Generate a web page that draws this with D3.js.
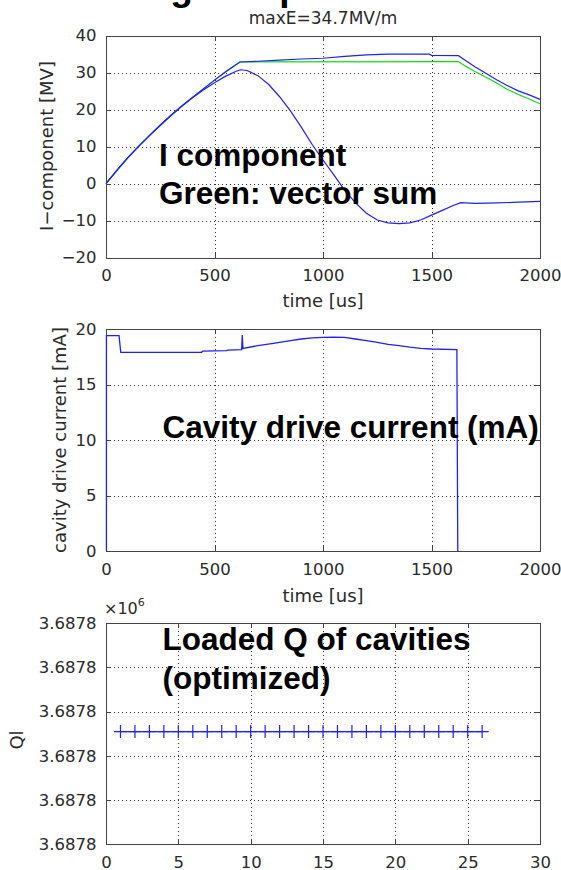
<!DOCTYPE html>
<html>
<head>
<meta charset="utf-8">
<script src="https://cdn.jsdelivr.net/npm/d3@7"></script>
<style>
  html, body { margin: 0; padding: 0; background: #fff; }
  svg { display: block; }
</style>
</head>
<body>
<svg id="fig" width="561" height="870"></svg>
<script>
// ---- Panel 1: I-component of cavity voltage [MV] vs time [us] ----
const timeTicks = [0, 500, 1000, 1500, 2000];
const iTicks = [-20, -10, 0, 10, 20, 30, 40];

// upper blue trace
const tUpper = [0, 50, 100, 150, 200, 250, 300, 350, 400, 450, 500, 550, 617, 700, 800, 900, 1000, 1100, 1200, 1300, 1400, 1490, 1500, 1624, 1650, 1700, 1754, 1800, 1846, 1900, 1950, 2000];
const vUpper = [0, 3.6, 7.0, 10.1, 13.0, 15.8, 18.5, 21.0, 23.4, 25.7, 28.0, 30.2, 32.9, 33.1, 33.4, 33.7, 33.9, 34.4, 34.8, 35.0, 35.0, 35.0, 34.7, 34.6, 33.6, 31.6, 29.7, 28.1, 26.6, 25.1, 24.0, 22.8];

// green trace: vector sum
const tVecSum = [0, 50, 100, 150, 200, 250, 300, 350, 400, 450, 500, 550, 617, 1624, 1650, 1700, 1754, 1800, 1846, 1900, 1950, 2000];
const vVecSum = [0, 3.6, 7.0, 10.1, 13.0, 15.8, 18.5, 21.0, 23.4, 25.7, 28.0, 30.2, 32.9, 33.0, 32.0, 30.3, 28.7, 27.2, 25.6, 24.1, 22.9, 21.6];

// lower blue trace
const tLower = [0, 50, 100, 150, 200, 250, 300, 350, 400, 450, 500, 550, 600, 620, 650, 700, 750, 800, 850, 900, 950, 1000, 1050, 1100, 1150, 1200, 1250, 1300, 1350, 1400, 1450, 1500, 1550, 1600, 1635, 1700, 1800, 1900, 2000];
const vLower = [0, 3.6, 7.0, 10.1, 13.0, 15.8, 18.5, 21.0, 23.3, 25.4, 27.3, 29.0, 30.4, 30.8, 30.6, 29.2, 26.8, 23.5, 19.7, 15.3, 10.6, 6.4, 2.4, -1.8, -5.2, -8.0, -9.8, -10.6, -10.8, -10.6, -9.8, -8.5, -7.2, -5.9, -5.1, -5.3, -5.2, -5.0, -4.8];

// ---- Panel 2: cavity drive current [mA] vs time [us] ----
const currentTicks = [0, 5, 10, 15, 20];
const tDrive = [2, 2, 60, 68, 440, 445, 555, 560, 625, 628, 631, 700, 771, 850, 900, 950, 1000, 1050, 1100, 1150, 1200, 1250, 1300, 1350, 1400, 1450, 1500, 1617, 1621];
const iDrive = [0, 19.4, 19.4, 17.9, 17.9, 18.0, 18.05, 18.1, 18.15, 19.45, 18.25, 18.5, 18.7, 18.95, 19.1, 19.2, 19.25, 19.27, 19.25, 19.1, 18.95, 18.8, 18.62, 18.5, 18.36, 18.26, 18.2, 18.15, 0];

// ---- Panel 3: loaded Q per cavity ----
const cavityTicks = [0, 5, 10, 15, 20, 25, 30];
const qlTicks = [3687799.0, 3687799.4, 3687799.8, 3687800.2, 3687800.6, 3687801.0];
const cavityNo = [1, 2, 3, 4, 5, 6, 7, 8, 9, 10, 11, 12, 13, 14, 15, 16, 17, 18, 19, 20, 21, 22, 23, 24, 25, 26];
const qlValues = [3687800.02, 3687800.02, 3687800.02, 3687800.02, 3687800.02, 3687800.02, 3687800.02, 3687800.02, 3687800.02, 3687800.02, 3687800.02, 3687800.02, 3687800.02, 3687800.02, 3687800.02, 3687800.02, 3687800.02, 3687800.02, 3687800.02, 3687800.02, 3687800.02, 3687800.02, 3687800.02, 3687800.02, 3687800.02, 3687800.02];

const BLUE = "#1f1fff";
const GREEN = "#10dd10";
const AXIS = "#444";
const TXT = "#2a2a2a";
const TICK_FONT = "'DejaVu Sans', sans-serif";
const BOLD_FONT = "'Liberation Sans', Arial, sans-serif";

const svg = d3.select("#fig");

// Draws grid and tick labels for one axes box.
function drawAxes(g, x, y, xt, yt, yFmt) {
  const [xl, xr] = x.range();
  const [yb, yt0] = y.range();
  const grid = g.append("g")
    .attr("stroke", "#333").attr("stroke-width", 1)
    .attr("stroke-dasharray", "1,3").attr("shape-rendering", "crispEdges");
  grid.selectAll("line.vx").data(xt.slice(1, -1)).join("line")
    .attr("x1", d => Math.round(x(d)) + 0.5).attr("x2", d => Math.round(x(d)) + 0.5)
    .attr("y1", yt0).attr("y2", yb);
  grid.selectAll("line.hy").data(yt.slice(1, -1)).join("line")
    .attr("class", "hy")
    .attr("x1", xl).attr("x2", xr)
    .attr("y1", d => Math.round(y(d)) + 0.5).attr("y2", d => Math.round(y(d)) + 0.5);

  const bottom = d3.axisBottom(x).tickValues(xt).tickSize(0).tickPadding(12).tickFormat(d3.format("d"));
  const left = d3.axisLeft(y).tickValues(yt).tickSize(0).tickPadding(9.5)
    .tickFormat(yFmt || (v => d3.format("d")(v).replace("-", "\u2212")));

  const gx = g.append("g").attr("transform", `translate(0,${yb})`).call(bottom);
  const gy = g.append("g").attr("transform", `translate(${xl},0)`).call(left);
  [gx, gy].forEach(a => {
    a.select(".domain").remove();
    a.selectAll("text").attr("font-family", TICK_FONT).attr("font-size", 16.5).attr("fill", TXT);
  });
}

// Frame with inward tick marks on all four sides.
function drawFrame(g, x, y, xt, yt) {
  const [xl, xr] = x.range();
  const [yb, yt0] = y.range();
  const f = g.append("g").attr("stroke", AXIS).attr("stroke-width", 1).attr("shape-rendering", "crispEdges");
  f.append("rect").attr("x", xl + 0.5).attr("y", yt0 + 0.5)
    .attr("width", xr - xl).attr("height", yb - yt0).attr("fill", "none");
  const tl = 5;
  f.selectAll("line.tb").data(xt).join("line").attr("class", "tb")
    .attr("x1", d => Math.round(x(d)) + 0.5).attr("x2", d => Math.round(x(d)) + 0.5)
    .attr("y1", yb).attr("y2", yb - tl);
  f.selectAll("line.tt").data(xt).join("line").attr("class", "tt")
    .attr("x1", d => Math.round(x(d)) + 0.5).attr("x2", d => Math.round(x(d)) + 0.5)
    .attr("y1", yt0).attr("y2", yt0 + tl);
  f.selectAll("line.tlft").data(yt).join("line").attr("class", "tlft")
    .attr("x1", xl).attr("x2", xl + tl)
    .attr("y1", d => Math.round(y(d)) + 0.5).attr("y2", d => Math.round(y(d)) + 0.5);
  f.selectAll("line.trt").data(yt).join("line").attr("class", "trt")
    .attr("x1", xr - tl).attr("x2", xr)
    .attr("y1", d => Math.round(y(d)) + 0.5).attr("y2", d => Math.round(y(d)) + 0.5);
}

function axisLabel(text, x, y, rotate) {
  const t = svg.append("text")
    .attr("font-family", TICK_FONT).attr("font-size", 18).attr("fill", TXT)
    .attr("text-anchor", "middle").text(text);
  if (rotate) t.attr("transform", `translate(${x},${y}) rotate(-90)`).attr("dy", "0.35em");
  else t.attr("x", x).attr("y", y);
  return t;
}

function note(lines, x, y0, step) {
  const t = svg.append("text")
    .attr("font-family", BOLD_FONT).attr("font-weight", "bold")
    .attr("font-size", 31.5).attr("fill", "#000");
  lines.forEach((s, i) => t.append("tspan").attr("x", x).attr("y", y0 + i * step).text(s));
}

// Slide heading, mostly above the visible area
svg.append("text").attr("x", 49).attr("y", 0)
  .attr("font-family", BOLD_FONT).attr("font-weight", "bold").attr("font-size", 37)
  .attr("fill", "#000").text("Loading and phase");

// ================= Panel 1 =================
const x1 = d3.scaleLinear([0, 2000], [106, 540]);
const y1 = d3.scaleLinear([-20, 40], [257.7, 35.7]);
const p1 = svg.append("g");
drawAxes(p1, x1, y1, timeTicks, iTicks);
const line1 = d3.line().x(d => x1(d[0])).y(d => y1(d[1]));
p1.append("path").datum(d3.zip(tVecSum, vVecSum)).attr("d", line1)
  .attr("fill", "none").attr("stroke", GREEN).attr("stroke-width", 1.2);
p1.append("path").datum(d3.zip(tLower, vLower)).attr("d", line1)
  .attr("fill", "none").attr("stroke", BLUE).attr("stroke-width", 1.2);
p1.append("path").datum(d3.zip(tUpper, vUpper)).attr("d", line1)
  .attr("fill", "none").attr("stroke", BLUE).attr("stroke-width", 1.2);
drawFrame(p1, x1, y1, timeTicks, iTicks);
svg.append("text").attr("x", 323).attr("y", 24).attr("text-anchor", "middle")
  .attr("font-family", TICK_FONT).attr("font-size", 17).attr("fill", TXT)
  .text("maxE=34.7MV/m");
axisLabel("time [us]", 323, 307);
axisLabel("I\u2212component [MV]", 47, 146, true);

// ================= Panel 2 =================
const x2 = d3.scaleLinear([0, 2000], [106, 540]);
const y2 = d3.scaleLinear([0, 20], [551, 329]);
const p2 = svg.append("g");
drawAxes(p2, x2, y2, timeTicks, currentTicks);
drawFrame(p2, x2, y2, timeTicks, currentTicks);
const line2 = d3.line().x(d => x2(d[0])).y(d => y2(d[1]));
p2.append("path").datum(d3.zip(tDrive, iDrive)).attr("d", line2)
  .attr("fill", "none").attr("stroke", BLUE).attr("stroke-width", 1.3);
axisLabel("time [us]", 323, 602);
axisLabel("cavity drive current [mA]", 60, 440, true);

// ================= Panel 3 =================
const x3 = d3.scaleLinear([0, 30], [106, 540]);
const y3 = d3.scaleLinear([qlTicks[0], qlTicks[qlTicks.length - 1]], [844.3, 623.3]);
const p3 = svg.append("g");
drawAxes(p3, x3, y3, cavityTicks, qlTicks, v => (v / 1e6).toFixed(4));
const line3 = d3.line().x(d => x3(d[0])).y(d => y3(d[1]));
const qPts = d3.zip(cavityNo, qlValues);
p3.append("path").datum(qPts).attr("d", line3)
  .attr("fill", "none").attr("stroke", BLUE).attr("stroke-width", 1.2);
const ms = 6.5;
p3.append("g").attr("stroke", BLUE).attr("stroke-width", 1.2)
  .selectAll("path").data(qPts).join("path")
  .attr("d", d => {
    const cx = x3(d[0]), cy = y3(d[1]);
    return `M${cx - ms},${cy}H${cx + ms}M${cx},${cy - ms}V${cy + ms}`;
  });
drawFrame(p3, x3, y3, cavityTicks, qlTicks);
axisLabel("Ql", 17, 740, true);
const mult = svg.append("text").attr("x", 104).attr("y", 614)
  .attr("font-family", TICK_FONT).attr("font-size", 16).attr("fill", TXT);
mult.append("tspan").text("\u00d710");
mult.append("tspan").attr("font-size", 11).attr("dy", -8).text("6");

// ================= Annotations =================
note(["I component", "Green: vector sum"], 159, 165.7, 38.6);
note(["Cavity drive current (mA)"], 162.5, 438.3, 0);
note(["Loaded Q of cavities", "(optimized)"], 162.5, 650, 39);
</script>
</body>
</html>
